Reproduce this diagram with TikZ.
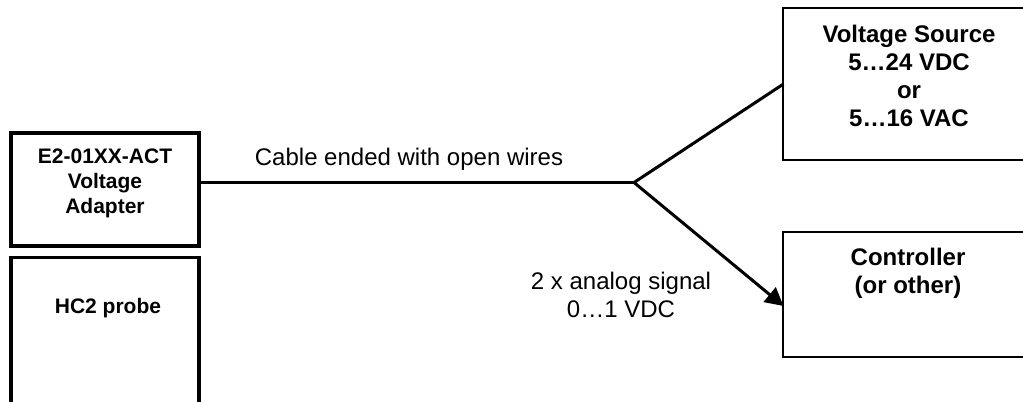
\documentclass[tikz,border=0pt]{standalone}
\usepackage{fontspec}
\setmainfont{Liberation Sans}
\usetikzlibrary{arrows.meta}
\tikzset{
  every node/.style={inner sep=0pt,outer sep=0pt},
  wire/.style={line width=2.25pt,black},
  thickbox/.style={draw=black,line width=2.6pt,rectangle},
  thinbox/.style={draw=black,line width=1.5pt,rectangle},
  lefttext/.style={align=center,font=\fontsize{15.75pt}{19pt}\selectfont\bfseries},
  righttext/.style={align=center,font=\fontsize{18pt}{21pt}\selectfont\bfseries},
  plaintext/.style={align=center,font=\fontsize{18pt}{20.5pt}\selectfont},
}
\begin{document}
\begin{tikzpicture}[x=0.75pt,y=-0.75pt]
\useasboundingbox (0,0) rectangle (1023,401);
\clip (0,0) rectangle (1023,401);
% boxes (those that run off the picture are cut by the clip)
\node[thickbox,minimum width=141pt,minimum height=84.75pt] (adapter) at (105,189.5) {};
\node[thickbox,minimum width=141pt,minimum height=122pt] (probe) at (105,339) {};
\node[thinbox,minimum width=184.9pt,minimum height=114pt] (source) at (906.75,84) {};
\node[thinbox,minimum width=184.9pt,minimum height=93.75pt] (control) at (906.75,294.5) {};
% connectors
\coordinate (junction) at (634,182.5);
\coordinate (ctlin) at (783,306);
\draw[wire] (adapter.east |- junction) -- (junction);
\draw[wire] (junction) -- (source.west);
\draw[wire,-{Triangle[length=13.5pt,width=14pt]}] (junction) -- (control.west |- ctlin);
% text
\node[lefttext] (adaptertext) at (105,183.5) {E2-01XX-ACT\\Voltage\\Adapter};
\node[lefttext] (probetext) at (108,308) {HC2 probe};
\node[righttext] (srctext) at (909,75.5) {Voltage Source\\5…24 VDC\\or\\5…16 VAC};
\node[righttext] (ctltext) at (908,273) {Controller\\(or other)};
\node[plaintext] (cable) at (409,159) {Cable ended with open wires};
\node[plaintext] (signal) at (621,295) {2 x analog signal\\0…1 VDC};
\end{tikzpicture}
\end{document}
